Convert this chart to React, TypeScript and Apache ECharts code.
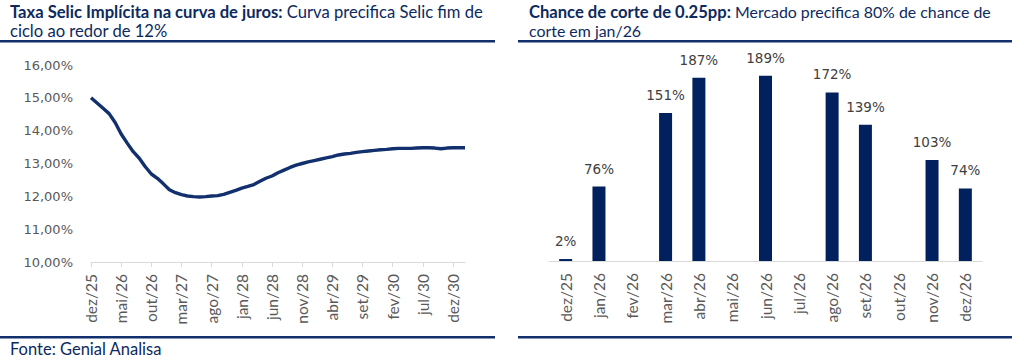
import React, { useEffect, useRef } from "react";
import * as echarts from "echarts";

const lineCategories: string[] = [
  "dez/25","jan/26","fev/26","mar/26","abr/26","mai/26","jun/26","jul/26","ago/26","set/26","out/26","nov/26",
  "dez/26","jan/27","fev/27","mar/27","abr/27","mai/27","jun/27","jul/27","ago/27","set/27","out/27","nov/27",
  "dez/27","jan/28","fev/28","mar/28","abr/28","mai/28","jun/28","jul/28","ago/28","set/28","out/28","nov/28",
  "dez/28","jan/29","fev/29","mar/29","abr/29","mai/29","jun/29","jul/29","ago/29","set/29","out/29","nov/29",
  "dez/29","jan/30","fev/30","mar/30","abr/30","mai/30","jun/30","jul/30","ago/30","set/30","out/30","nov/30",
  "dez/30","jan/31","fev/31",
];

const selicValues: number[] = [
  15.0, 14.84, 14.68, 14.52, 14.25, 13.9, 13.62, 13.36, 13.16, 12.9, 12.68, 12.55,
  12.38, 12.2, 12.11, 12.05, 12.01, 11.99, 11.98, 11.99, 12.01, 12.02, 12.06, 12.12,
  12.18, 12.25, 12.3, 12.36, 12.46, 12.55, 12.62, 12.72, 12.8, 12.88, 12.95, 13.0,
  13.05, 13.09, 13.13, 13.17, 13.21, 13.26, 13.29, 13.31, 13.34, 13.36, 13.38, 13.4,
  13.42, 13.43, 13.45, 13.46, 13.46, 13.46, 13.47, 13.48, 13.48, 13.47, 13.45, 13.47,
  13.48, 13.48, 13.48,
];

const barCategories: string[] = [
  "dez/25","jan/26","fev/26","mar/26","abr/26","mai/26","jun/26","jul/26","ago/26","set/26","out/26","nov/26","dez/26",
];

const cutChance: (number | null)[] = [2, 76, null, 151, 187, null, 189, null, 172, 139, null, 103, 74];

const NAVY = "#00205e";
const LINE_NAVY = "#12306e";
const TITLE_COLOR = "#0c2a5e";
const GRAY = "#595959";
const TITLE_FONT = "Lato";

export default function App() {
  const ref = useRef<HTMLDivElement>(null);

  useEffect(() => {
    document.body.style.margin = "0";
    const chart = echarts.init(ref.current!, undefined, { renderer: "svg" });
    const titleRich = {
      b: { fontFamily: TITLE_FONT, fontWeight: "bold", fontSize: 16.6, fill: TITLE_COLOR, lineHeight: 19 },
      n: { fontFamily: TITLE_FONT, fontWeight: "normal", fontSize: 16.6, fill: TITLE_COLOR, lineHeight: 19 },
    };
    const titleRich2 = {
      b: { fontFamily: TITLE_FONT, fontWeight: "bold", fontSize: 16.6, fill: TITLE_COLOR, lineHeight: 19 },
      n: { fontFamily: TITLE_FONT, fontWeight: "normal", fontSize: 15.9, fill: TITLE_COLOR, lineHeight: 19 },
    };
    chart.setOption({
      animation: false,
      grid: [
        { left: 91, top: 65, width: 374, height: 197 },
        { left: 549, top: 65, width: 433, height: 196 },
      ],
      xAxis: [
        {
          type: "category",
          gridIndex: 0,
          data: lineCategories,
          boundaryGap: false,
          axisLine: { lineStyle: { color: "#d9d9d9", width: 1 } },
          axisTick: { interval: 4, length: 5, lineStyle: { color: "#d9d9d9" } },
          axisLabel: {
            interval: 4,
            rotate: 90,
            margin: 12,
            color: GRAY,
            fontFamily: TITLE_FONT,
            fontSize: 15.5,
          },
        },
        {
          type: "category",
          gridIndex: 1,
          data: barCategories,
          boundaryGap: true,
          axisLine: { lineStyle: { color: "#d9d9d9", width: 1 } },
          axisTick: { length: 5, lineStyle: { color: "#d9d9d9" } },
          axisLabel: {
            interval: 0,
            rotate: 90,
            margin: 12,
            color: GRAY,
            fontFamily: TITLE_FONT,
            fontSize: 15.5,
          },
        },
      ],
      yAxis: [
        {
          type: "value",
          gridIndex: 0,
          min: 10,
          max: 16,
          interval: 1,
          splitLine: { show: false },
          axisLine: { show: false },
          axisTick: { show: false },
          axisLabel: {
            margin: 18,
            color: GRAY,
            fontFamily: "DejaVu Sans",
            fontSize: 13,
            formatter: (v: number) => v.toFixed(2).replace(".", ",") + "%",
          },
        },
        {
          type: "value",
          gridIndex: 1,
          min: 0,
          max: 200,
          show: false,
          splitLine: { show: false },
        },
      ],
      series: [
        {
          type: "line",
          xAxisIndex: 0,
          yAxisIndex: 0,
          data: selicValues,
          showSymbol: false,
          symbol: "none",
          lineStyle: { color: LINE_NAVY, width: 3.4 },
        },
        {
          type: "bar",
          xAxisIndex: 1,
          yAxisIndex: 1,
          data: cutChance,
          barWidth: 13,
          itemStyle: { color: NAVY },
          label: {
            show: true,
            position: "top",
            distance: 11,
            color: "#404040",
            fontFamily: "DejaVu Sans",
            fontSize: 13.5,
            formatter: (p: any) => (p.value == null ? "" : p.value + "%"),
          },
        },
      ],
      graphic: [
        {
          type: "text",
          left: 10,
          top: 3,
          style: {
            text: "{b|Taxa Selic Implícita na curva de juros:}{n| Curva precifica Selic fim de}\n{n|ciclo ao redor de 12%}",
            rich: titleRich,
          },
        },
        {
          type: "text",
          left: 529,
          top: 3,
          style: {
            text: "{b|Chance de corte de 0.25pp:}{n| Mercado precifica 80% de chance de}\n{n|corte em jan/26}",
            rich: titleRich2,
          },
        },
        { type: "rect", shape: { x: 0, y: 40, width: 495, height: 2.5 }, style: { fill: LINE_NAVY } },
        { type: "rect", shape: { x: 518, y: 40, width: 494, height: 2.5 }, style: { fill: LINE_NAVY } },
        { type: "rect", shape: { x: 0, y: 336, width: 495, height: 2.5 }, style: { fill: LINE_NAVY } },
        { type: "rect", shape: { x: 518, y: 336, width: 494, height: 2.5 }, style: { fill: LINE_NAVY } },
        {
          type: "text",
          left: 10,
          top: 340,
          style: {
            text: "Fonte: Genial Analisa",
            fontFamily: TITLE_FONT,
            fontSize: 16.5,
            fill: TITLE_COLOR,
          },
        },
      ],
    });
    return () => chart.dispose();
  }, []);

  return (
    <div
      ref={ref}
      style={{ position: "absolute", left: 0, top: 0, width: 1024, height: 364, background: "#fff" }}
    />
  );
}
